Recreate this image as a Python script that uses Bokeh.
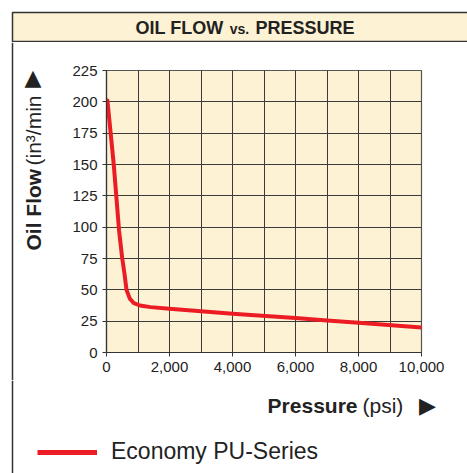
import math
from bokeh.plotting import figure
from bokeh.layouts import column, row
from bokeh.models import (Range1d, Label, Legend, LegendItem, Span,
                          FixedTicker, SingleIntervalTicker, NumeralTickFormatter)
from bokeh.embed import file_html
from bokeh.resources import INLINE

# ---- data ----
pressure = [30, 230, 400, 500, 570, 635, 740, 870, 1060, 1400, 2000, 4000, 6000,
            7000, 8000, 10000]
oil_flow = [201, 150, 97, 75, 63, 50, 43, 39.3, 37.5, 36.2, 34.9, 31, 27.5,
            25.5, 23.7, 20]
x_ticks = [0, 2000, 4000, 6000, 8000, 10000]
y_ticks = [0, 25, 50, 75, 100, 125, 150, 175, 200, 225]
series_name = "Economy PU-Series"
title_parts = ["OIL FLOW", "vs.", "PRESSURE"]
y_title = ["Oil Flow", "(in³/min"]
x_title = ["Pressure", "(psi)"]

FONT = "Liberation Sans"
BG = "#fdf2d4"
RED = "#ec1c24"
INK = "#222222"
EDGE = "#333333"


def no_align(f):
    try:
        f.frame_align = False
    except Exception:
        pass


def blank(w, h, y_top, y_bottom):
    """Figure whose frame is its whole canvas; y runs down like the page."""
    f = figure(width=w, height=h, output_backend="svg", toolbar_location=None,
               x_range=Range1d(0, w), y_range=Range1d(y_bottom, y_top),
               x_axis_type=None, y_axis_type=None,
               min_border=0, min_border_left=0, min_border_right=0,
               min_border_top=0, min_border_bottom=0)
    f.outline_line_color = None
    f.background_fill_color = "white"
    f.border_fill_color = "white"
    for g in f.grid:
        g.visible = False
    no_align(f)
    return f


def lab(f, text, x, y, **kw):
    opts = dict(text_font=FONT, text_color=INK)
    opts.update(kw)
    f.add_layout(Label(x=x, y=y, text=text, **opts))


# ---------- title band (page y 0..42) ----------
T = blank(467, 42, 0, 42)
T.quad(left=12, right=480, top=12, bottom=41, fill_color=BG, line_color=EDGE,
       line_width=1.5)
lab(T, title_parts[0], 223, 27, text_align="right", text_baseline="middle",
    text_font_size="18px", text_font_style="bold")
lab(T, title_parts[1], 239, 28.5, text_align="center", text_baseline="middle",
    text_font_size="14px", text_font_style="bold")
lab(T, title_parts[2], 255, 27, text_align="left", text_baseline="middle",
    text_font_size="18px", text_font_style="bold")

# ---------- left strip with y title (page y 42..380, x 0..60) ----------
L = blank(60, 338, 42, 380)
L.add_layout(Span(location=12, dimension="height", line_color=EDGE, line_width=1.5))
lab(L, y_title[0], 32.5, 250, angle=math.pi / 2, text_align="left",
    text_baseline="middle", text_font_size="21px", text_font_style="bold")
lab(L, y_title[1], 32.5, 165, angle=math.pi / 2, text_align="left",
    text_baseline="middle", text_font_size="21px")
lab(L, "▲", 32.5, 76.5, text_align="center", text_baseline="middle",
    text_font="DejaVu Sans", text_font_size="22px")

# ---------- main chart (page x 60..467, y 42..380) ----------
M = figure(width=407, height=338, output_backend="svg", toolbar_location=None,
           x_range=Range1d(0, 10000), y_range=Range1d(0, 225),
           min_border_left=46, min_border_right=46, min_border_top=28,
           min_border_bottom=28)
no_align(M)
M.background_fill_color = BG
M.border_fill_color = "white"
M.outline_line_color = "#555555"
M.outline_line_width = 1.2

M.xgrid.ticker = SingleIntervalTicker(interval=1000)
M.ygrid.ticker = SingleIntervalTicker(interval=25)
for g in (M.xgrid, M.ygrid):
    g.grid_line_color = "#3a3a3a"
    g.grid_line_alpha = 1.0
    g.grid_line_width = 1

M.xaxis.ticker = FixedTicker(ticks=x_ticks)
M.yaxis.ticker = FixedTicker(ticks=y_ticks)
M.xaxis.formatter = NumeralTickFormatter(format="0,0")
for ax in (M.xaxis, M.yaxis):
    ax.axis_line_color = EDGE
    ax.axis_line_width = 1.2
    ax.major_tick_line_color = EDGE
    ax.major_tick_out = 4
    ax.major_tick_in = 0
    ax.minor_tick_out = 0
    ax.minor_tick_in = 0
    ax.major_label_text_font = FONT
    ax.major_label_text_font_size = "15px"
    ax.major_label_text_color = INK
    ax.major_label_standoff = 5

M.line(pressure, oil_flow, line_color=RED, line_width=4, line_join="round",
       line_cap="round")

# ---------- bottom strip: x title + legend (page y 380..473) ----------
B = blank(467, 93, 380, 473)
B.add_layout(Span(location=12, dimension="height", line_color=EDGE, line_width=1.5))
lab(B, x_title[0], 357, 405, text_align="right", text_baseline="middle",
    text_font_size="21px", text_font_style="bold")
lab(B, x_title[1], 362, 405, text_align="left", text_baseline="middle",
    text_font_size="21px")
lab(B, "▶", 427, 405, text_align="center", text_baseline="middle",
    text_font="DejaVu Sans", text_font_size="22px")
# legend key: same style as the series line, kept off-canvas
key = B.line([-60, -50], [400, 400], line_color=RED, line_width=5)
legend = Legend(items=[LegendItem(label=series_name, renderers=[key])],
                location=(37, 8), orientation="horizontal",
                glyph_width=60, glyph_height=20, label_standoff=14, padding=0, margin=0,
                label_text_font=FONT, label_text_font_size="23px",
                label_text_color=INK, border_line_alpha=0, background_fill_alpha=0)
B.add_layout(legend)

layout = column(T, row(L, M, spacing=0), B, spacing=0)
open("out.html", "w").write(file_html(layout, INLINE))
